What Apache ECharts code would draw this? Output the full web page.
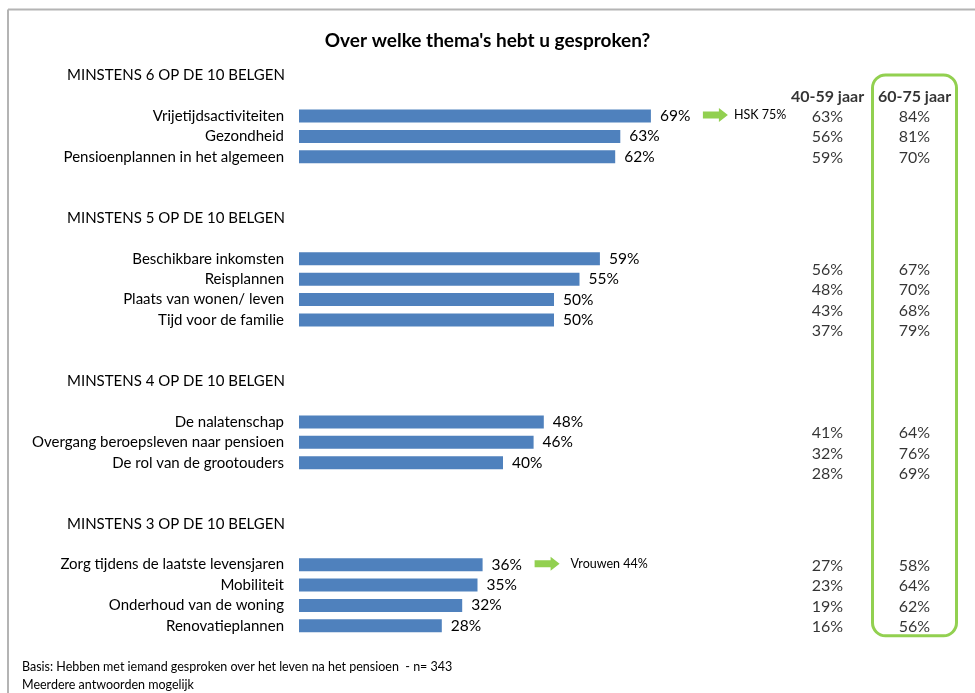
<!DOCTYPE html>
<html><head><meta charset="utf-8">
<script src="https://cdn.jsdelivr.net/npm/echarts@6/dist/echarts.min.js"></script>
<style>html,body{margin:0;padding:0;background:#fff}#c{width:975px;height:693px}</style>
</head><body><div id="c"></div>
<script>
// ---------- DATA ----------
const chartTitle = "Over welke thema's hebt u gesproken?";
const groupHeaders = ['MINSTENS 6 OP DE 10 BELGEN', 'MINSTENS 5 OP DE 10 BELGEN', 'MINSTENS 4 OP DE 10 BELGEN', 'MINSTENS 3 OP DE 10 BELGEN'];
const groupItems = [
  ['Vrijetijdsactiviteiten', 'Gezondheid', 'Pensioenplannen in het algemeen'],
  ['Beschikbare inkomsten', 'Reisplannen', 'Plaats van wonen/ leven', 'Tijd voor de familie'],
  ['De nalatenschap', 'Overgang beroepsleven naar pensioen', 'De rol van de grootouders'],
  ['Zorg tijdens de laatste levensjaren', 'Mobiliteit', 'Onderhoud van de woning', 'Renovatieplannen']
];
const totalValues = [[69, 63, 62], [59, 55, 50, 50], [48, 46, 40], [36, 35, 32, 28]];
const age4059 = [[63, 56, 59], [56, 48, 43, 37], [41, 32, 28], [27, 23, 19, 16]];
const age6075 = [[84, 81, 70], [67, 70, 68, 79], [64, 76, 69], [58, 64, 62, 56]];
const columnNames = ['40-59 jaar', '60-75 jaar'];
const notes = [
  { group: 0, item: 0, text: 'HSK 75%' },
  { group: 3, item: 0, text: 'Vrouwen 44%' }
];
const footnotes = ['Basis: Hebben met iemand gesproken over het leven na het pensioen  - n= 343', 'Meerdere antwoorden mogelijk'];

// ---------- LAYOUT ----------
const FONT = 'Lato';
const BLUE = '#4F81BD';
const GREEN = '#92D050';
const tableHeaderSlot = 2;
const tableGroupStartSlot = [4, 19, 35, 48];
const tableSlotCount = 55;
const noteTextGap = [31, 36];

// bar rows (category axis)
const rowKeys = [], rowLabels = [], barData = [], headerRowIdx = [], itemRowIdx = [];
groupHeaders.forEach((h, g) => {
  headerRowIdx.push(rowKeys.length);
  rowKeys.push('h' + g); rowLabels.push(''); barData.push('-');
  rowKeys.push('s' + g + 'a'); rowLabels.push(''); barData.push('-');
  itemRowIdx.push([]);
  groupItems[g].forEach((it, i) => {
    itemRowIdx[g].push(rowKeys.length);
    rowKeys.push('i' + g + '_' + i); rowLabels.push(it); barData.push(totalValues[g][i]);
  });
  if (g < groupHeaders.length - 1) {
    rowKeys.push('s' + g + 'b'); rowLabels.push(''); barData.push('-');
    rowKeys.push('s' + g + 'c'); rowLabels.push(''); barData.push('-');
  }
});

// table slots
const slotKeys = [];
for (let k = 0; k < tableSlotCount; k++) slotKeys.push('t' + k);
const col1 = [], col2 = [];
groupItems.forEach((items, g) => {
  items.forEach((it, i) => {
    const slot = slotKeys[tableGroupStartSlot[g] + 2 * i];
    col1.push([columnNames[0], slot, age4059[g][i]]);
    col2.push([columnNames[1], slot, age6075[g][i]]);
  });
});
const headerData = columnNames.map(c => [c, slotKeys[tableHeaderSlot], c]);

const chart = echarts.init(document.getElementById('c'));

const tableSeries = (data, bold) => ({
  type: 'scatter', xAxisIndex: 1, yAxisIndex: 1, data: data,
  symbolSize: 1, itemStyle: { color: 'rgba(0,0,0,0)' }, silent: true,
  label: {
    show: true, position: 'inside', fontFamily: FONT, color: '#000',
    fontSize: 16, fontWeight: bold ? 'bold' : 'normal',
    offset: [0, 1],
    formatter: p => bold ? p.value[2] : p.value[2] + '%'
  }
});

chart.setOption({
  animation: false,
  title: {
    text: chartTitle, left: 'center', top: 26,
    textStyle: { fontFamily: FONT, fontSize: 19, fontWeight: 'bold', color: '#000' }
  },
  grid: [
    { left: 299, width: 510, top: 65, height: 571 },
    { left: 784, width: 174, top: 69.9, height: 561 }
  ],
  xAxis: [
    { type: 'value', gridIndex: 0, min: 0, max: 100, show: false },
    { type: 'category', gridIndex: 1, data: columnNames, show: false }
  ],
  yAxis: [
    {
      type: 'category', gridIndex: 0, data: rowKeys, inverse: true,
      axisLine: { show: false }, axisTick: { show: false }, splitLine: { show: false },
      axisLabel: {
        margin: 15, fontFamily: FONT, fontSize: 15, color: '#000', interval: 0,
        formatter: (v, i) => rowLabels[i]
      }
    },
    { type: 'category', gridIndex: 1, data: slotKeys, inverse: true, show: false }
  ],
  series: [
    {
      type: 'bar', xAxisIndex: 0, yAxisIndex: 0, data: barData, barWidth: 13,
      itemStyle: { color: BLUE }, silent: true,
      label: {
        show: true, position: 'right', distance: 9, fontFamily: FONT, fontSize: 15.5, color: '#000',
        formatter: p => p.value + '%'
      }
    },
    tableSeries(col1, false),
    tableSeries(col2, false),
    tableSeries(headerData, true)
  ]
});

// ---------- GRAPHICS (positions derived from the axes) ----------
const g = [];
g.push({ type: 'line', shape: { x1: 8, y1: 9.5, x2: 975, y2: 9.5 }, style: { stroke: '#b4b4b4', lineWidth: 2 }, silent: true });
g.push({ type: 'line', shape: { x1: 8, y1: 9.5, x2: 8, y2: 693 }, style: { stroke: '#b4b4b4', lineWidth: 2 }, silent: true });

headerRowIdx.forEach((ri, gi) => {
  const p = chart.convertToPixel({ xAxisIndex: 0, yAxisIndex: 0 }, [0, ri]);
  g.push({ type: 'text', x: 67, y: p[1], style: { text: groupHeaders[gi], fontFamily: FONT, fontSize: 15, fill: '#000', textVerticalAlign: 'middle', textAlign: 'left' }, silent: true });
});

notes.forEach((n, ni) => {
  const ri = itemRowIdx[n.group][n.item];
  const p = chart.convertToPixel({ xAxisIndex: 0, yAxisIndex: 0 }, [totalValues[n.group][n.item], ri]);
  const x0 = p[0] + 52, y = p[1] - 1;
  g.push({
    type: 'polygon', silent: true,
    shape: { points: [[x0, y - 3.5], [x0 + 16, y - 3.5], [x0 + 16, y - 7], [x0 + 25, y], [x0 + 16, y + 7], [x0 + 16, y + 3.5], [x0, y + 3.5]] },
    style: { fill: GREEN }
  });
  g.push({ type: 'text', x: x0 + noteTextGap[ni], y: y, style: { text: n.text, fontFamily: FONT, fontSize: 12.5, fill: '#000', textVerticalAlign: 'middle' }, silent: true });
});

// rounded box around 60-75 column
const cTop = chart.convertToPixel({ xAxisIndex: 1, yAxisIndex: 1 }, [1, tableHeaderSlot]);
const cBot = chart.convertToPixel({ xAxisIndex: 1, yAxisIndex: 1 }, [1, tableSlotCount - 1]);
g.push({
  type: 'rect', silent: true,
  shape: { x: cTop[0] - 42, y: cTop[1] - 20.5, width: 84, height: (cBot[1] + 10) - (cTop[1] - 20.5), r: 13 },
  style: { fill: 'none', stroke: GREEN, lineWidth: 3 }
});

footnotes.forEach((t, i) => {
  g.push({ type: 'text', x: 22, y: 667 + i * 18, style: { text: t, fontFamily: FONT, fontSize: 12.5, fill: '#000', textVerticalAlign: 'middle' }, silent: true });
});

chart.setOption({ graphic: g });
</script>
</body></html>
